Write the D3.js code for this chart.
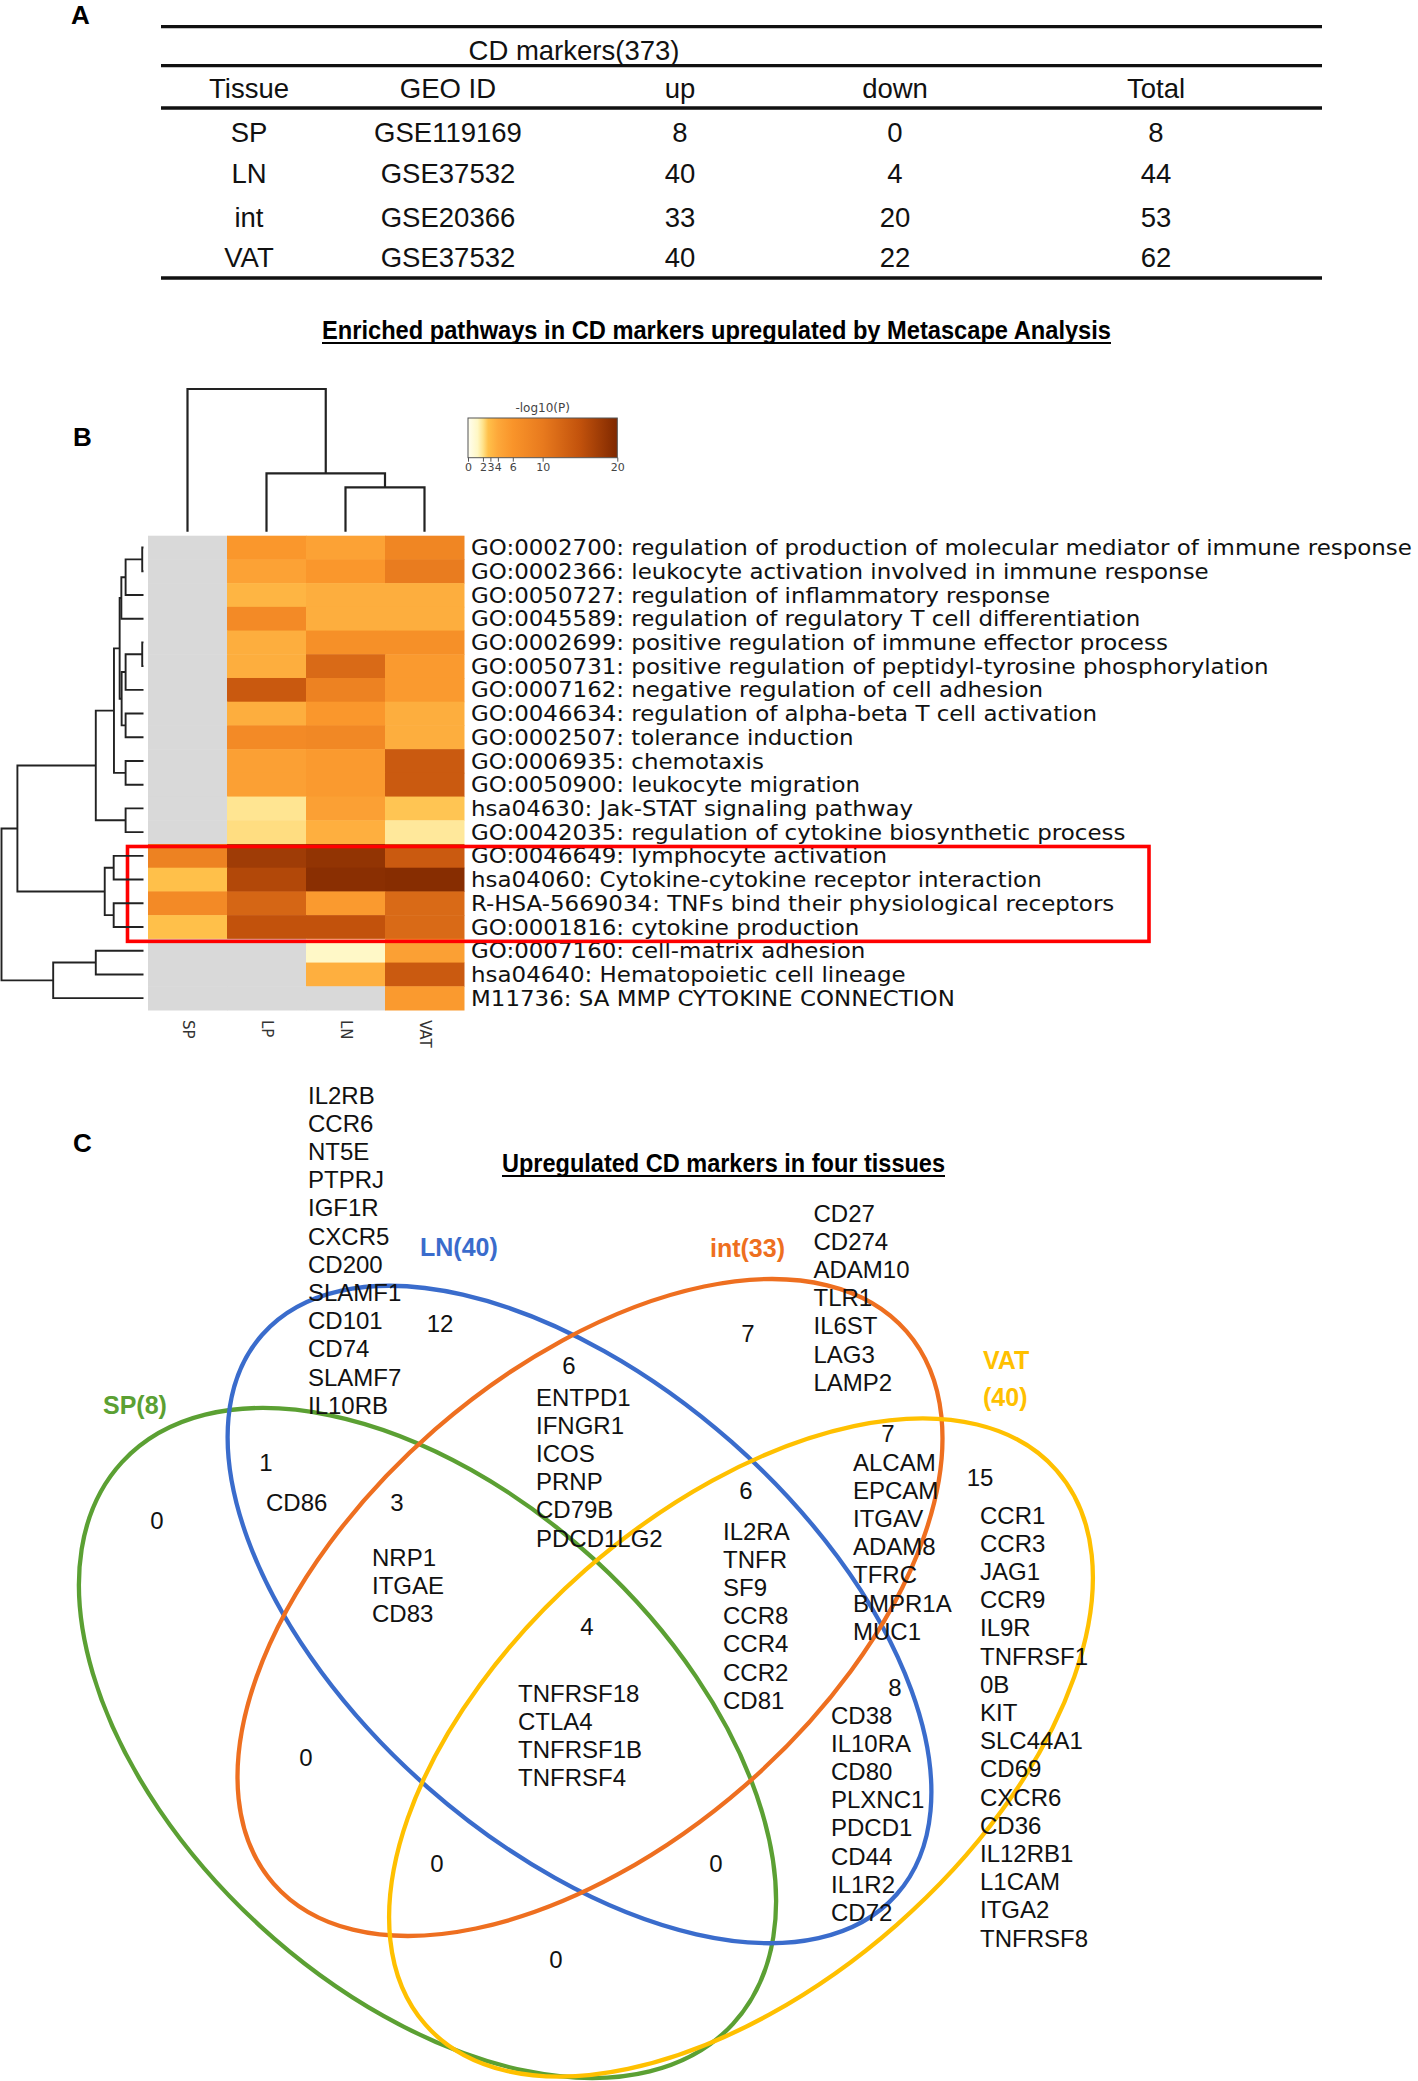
<!DOCTYPE html>
<html><head><meta charset="utf-8">
<script src="https://cdn.jsdelivr.net/npm/d3@7"></script>
<style>html,body{margin:0;padding:0;background:#fff;} svg{display:block;}</style>
</head><body>
<svg id="fig" width="1418" height="2081"></svg>
<script>
// ================= DATA =================
// Panel A table
const tableTitle = "CD markers(373)";
const tableHeaders = ["Tissue", "GEO ID", "up", "down", "Total"];
const tissues = ["SP", "LN", "int", "VAT"];
const geoIds = ["GSE119169", "GSE37532", "GSE20366", "GSE37532"];
const upCounts = [8, 40, 33, 40];
const downCounts = [0, 4, 20, 22];
const totalCounts = [8, 44, 53, 62];

// Panel B heatmap (-log10 P); null = not enriched (grey)
const heatTitle = "Enriched pathways in CD markers upregulated by Metascape Analysis";
const heatColumns = ["SP", "LP", "LN", "VAT"];
const pathwayTerms = [
  "GO:0002700: regulation of production of molecular mediator of immune response",
  "GO:0002366: leukocyte activation involved in immune response",
  "GO:0050727: regulation of inflammatory response",
  "GO:0045589: regulation of regulatory T cell differentiation",
  "GO:0002699: positive regulation of immune effector process",
  "GO:0050731: positive regulation of peptidyl-tyrosine phosphorylation",
  "GO:0007162: negative regulation of cell adhesion",
  "GO:0046634: regulation of alpha-beta T cell activation",
  "GO:0002507: tolerance induction",
  "GO:0006935: chemotaxis",
  "GO:0050900: leukocyte migration",
  "hsa04630: Jak-STAT signaling pathway",
  "GO:0042035: regulation of cytokine biosynthetic process",
  "GO:0046649: lymphocyte activation",
  "hsa04060: Cytokine-cytokine receptor interaction",
  "R-HSA-5669034: TNFs bind their physiological receptors",
  "GO:0001816: cytokine production",
  "GO:0007160: cell-matrix adhesion",
  "hsa04640: Hematopoietic cell lineage",
  "M11736: SA MMP CYTOKINE CONNECTION"
];
const logP_SP  = [null,null,null,null,null,null,null,null,null,null,null,null,null, 8.8, 2.7, 7.5, 2.7, null,null,null];
const logP_LP  = [5.7, 4.6, 3.3, 7.5, 3.7, 3.7, 14.1, 3.7, 7.5, 4.8, 4.8, 1.9, 2.1, 17.6, 16.2, 12.5, 15.0, null, null, null];
const logP_LN  = [4.6, 5.7, 3.7, 3.7, 6.6, 12.0, 8.8, 5.7, 7.8, 5.4, 5.4, 4.8, 3.6, 18.6, 19.2, 5.4, 15.0, 1.2, 3.6, null];
const logP_VAT = [8.2, 9.7, 3.7, 3.7, 6.6, 5.4, 5.4, 3.7, 3.7, 14.0, 14.0, 2.6, 1.8, 14.0, 19.4, 12.0, 12.0, 4.8, 14.0, 5.4];
const highlightedRows = [13, 16];
const legendTitle = "-log10(P)";
const legendTicks = [0, 2, 3, 4, 6, 10, 20];
const colorStops  = [0, 1.3, 2, 2.7, 4, 6, 10, 15, 20];
const colorRange  = ["#fffef0", "#fff7c4", "#ffe28a", "#ffc04a", "#fda83a", "#f9942a", "#e87a1e", "#c2520c", "#7f2800"];

// Dendrograms (merge heights, 0 = leaves, 1 = root)
const columnTree = {h: 1, children: [{leaf: "SP"}, {h: 0.409, children: [{leaf: "LP"}, {h: 0.311, children: [{leaf: "LN"}, {leaf: "VAT"}]}]}]};
const L = i => ({leaf: i});
const rowTree = {h: 1, children: [
  {h: 0.888, children: [
    {h: 0.336, children: [
      {h: 0.208, children: [
        {h: 0.168, children: [
          {h: 0.156, children: [{h: 0.126, children: [{h: 0.009, children: [L(0), L(1)]}, L(2)]}, L(3)]},
          {h: 0.154, children: [{h: 0.126, children: [{h: 0.009, children: [L(4), L(5)]}, L(6)]}, {h: 0.126, children: [L(7), L(8)]}]}
        ]},
        {h: 0.126, children: [L(9), L(10)]}
      ]},
      {h: 0.126, children: [L(11), L(12)]}
    ]},
    {h: 0.273, children: [{h: 0.21, children: [L(13), L(14)]}, {h: 0.21, children: [L(15), L(16)]}]}
  ]},
  {h: 0.636, children: [{h: 0.336, children: [L(17), L(18)]}, L(19)]}
]};

// Panel C Venn
const vennTitle = "Upregulated CD markers in four tissues";
const setNames = ["SP", "LN", "int", "VAT"];
const setSizes = [8, 40, 33, 40];
const setColors = ["#5ba033", "#3a6ccc", "#ee6f20", "#ffc000"];
const regionNames  = ["SP", "LN", "int", "VAT", "SP&LN", "LN&int", "int&VAT", "SP&LN&int", "LN&int&VAT", "all", "LN&VAT", "SP&int", "SP&int&VAT", "SP&VAT", "SP&LN&VAT"];
const regionCounts = [0, 12, 7, 15, 1, 6, 7, 3, 6, 4, 8, 0, 0, 0, 0];
const regionGenes = [
  [],
  ["IL2RB", "CCR6", "NT5E", "PTPRJ", "IGF1R", "CXCR5", "CD200", "SLAMF1", "CD101", "CD74", "SLAMF7", "IL10RB"],
  ["CD27", "CD274", "ADAM10", "TLR1", "IL6ST", "LAG3", "LAMP2"],
  ["CCR1", "CCR3", "JAG1", "CCR9", "IL9R", "TNFRSF1", "0B", "KIT", "SLC44A1", "CD69", "CXCR6", "CD36", "IL12RB1", "L1CAM", "ITGA2", "TNFRSF8"],
  ["CD86"],
  ["ENTPD1", "IFNGR1", "ICOS", "PRNP", "CD79B", "PDCD1LG2"],
  ["ALCAM", "EPCAM", "ITGAV", "ADAM8", "TFRC", "BMPR1A", "MUC1"],
  ["NRP1", "ITGAE", "CD83"],
  ["IL2RA", "TNFR", "SF9", "CCR8", "CCR4", "CCR2", "CD81"],
  ["TNFRSF18", "CTLA4", "TNFRSF1B", "TNFRSF4"],
  ["CD38", "IL10RA", "CD80", "PLXNC1", "PDCD1", "CD44", "IL1R2", "CD72"],
  [], [], [], []
];

// ================= LAYOUT =================
const svg = d3.select("#fig");
const SANS = "'Liberation Sans', Arial, Helvetica, sans-serif";
const DEJAVU = "'DejaVu Sans', Verdana, sans-serif";
svg.append("rect").attr("width", 1418).attr("height", 2081).attr("fill", "#fff");

// panel letters
const letterPos = [[71, 24], [73, 446], [73, 1152]];
svg.selectAll("text.letter").data(["A", "B", "C"]).join("text")
  .attr("class", "letter").attr("x", (d, i) => letterPos[i][0]).attr("y", (d, i) => letterPos[i][1])
  .attr("font-family", SANS).attr("font-weight", "bold").attr("font-size", 26).attr("fill", "#000").text(d => d);

// ---------- Panel A ----------
const ruleY = [26.7, 65.7, 108, 278];
svg.selectAll("line.rule").data(ruleY).join("line").attr("class", "rule")
  .attr("x1", 161).attr("x2", 1322).attr("y1", d => d).attr("y2", d => d)
  .attr("stroke", "#111").attr("stroke-width", 3.3);
const colX = [249, 448, 680, 895, 1156];
const tbl = svg.append("g").attr("font-family", SANS).attr("font-size", 27.5).attr("fill", "#111").attr("text-anchor", "middle");
tbl.append("text").attr("x", 574).attr("y", 60).text(tableTitle);
tbl.selectAll("text.hdr").data(tableHeaders).join("text").attr("class", "hdr")
  .attr("x", (d, i) => colX[i]).attr("y", 98).text(d => d);
const rowBaseY = [142, 183, 227, 267];
const tableCols = [tissues, geoIds, upCounts, downCounts, totalCounts];
tableCols.forEach((col, j) => {
  tbl.selectAll("text.c" + j).data(col).join("text").attr("class", "c" + j)
    .attr("x", colX[j]).attr("y", (d, i) => rowBaseY[i]).text(d => d);
});

// ---------- Panel B ----------
svg.append("text").attr("x", 322).attr("y", 339).attr("font-family", SANS).attr("font-weight", "bold")
  .attr("font-size", 25).attr("textLength", 789).attr("lengthAdjust", "spacingAndGlyphs").text(heatTitle);
svg.append("line").attr("x1", 322).attr("x2", 1111).attr("y1", 343).attr("y2", 343).attr("stroke", "#000").attr("stroke-width", 2);

const xBand = d3.scaleBand().domain(heatColumns).range([148, 464]);
const yBand = d3.scaleBand().domain(d3.range(pathwayTerms.length)).range([535.7, 1010]);
const color = d3.scaleLinear().domain(colorStops).range(colorRange).interpolate(d3.interpolateRgb).clamp(true);
const colArrays = [logP_SP, logP_LP, logP_LN, logP_VAT];
const cells = pathwayTerms.flatMap((t, i) => heatColumns.map((c, j) => ({i, c, v: colArrays[j][i]})));
svg.append("g").selectAll("rect").data(cells).join("rect")
  .attr("x", d => xBand(d.c)).attr("y", d => yBand(d.i))
  .attr("width", xBand.bandwidth() + 0.5).attr("height", yBand.bandwidth() + 0.5)
  .attr("fill", d => d.v == null ? "#d9d9d9" : color(d.v));

// row labels
svg.append("g").selectAll("text").data(pathwayTerms).join("text")
  .attr("transform", (d, i) => `translate(471,${yBand(i) + yBand.bandwidth() / 2 + 7.6}) scale(1.093,1)`)
  .attr("font-family", DEJAVU).attr("font-size", 21).attr("fill", "#111").text(d => d);

// column labels
svg.append("g").selectAll("text").data(heatColumns).join("text")
  .attr("transform", d => `translate(${xBand(d) + xBand.bandwidth() / 2},1020) rotate(90)`)
  .attr("dominant-baseline", "central").attr("font-family", DEJAVU).attr("font-size", 15).attr("fill", "#333").text(d => d);

// highlight box
svg.append("rect").attr("x", 127.5).attr("y", yBand(highlightedRows[0]) + 2.5)
  .attr("width", 1149 - 127.5).attr("height", yBand(highlightedRows[1]) + yBand.bandwidth() - yBand(highlightedRows[0]))
  .attr("fill", "none").attr("stroke", "#ff0000").attr("stroke-width", 3.6);

// dendrograms
function layoutTree(tree, leafPos, hScale) {
  const root = d3.hierarchy(tree);
  root.eachAfter(n => {
    if (!n.children) { n.p = leafPos(n.data.leaf); n.q = hScale(0); }
    else { n.p = d3.mean(n.children, c => c.p); n.q = hScale(n.data.h); }
  });
  return root;
}
const colRoot = layoutTree(columnTree, k => xBand(k) + xBand.bandwidth() / 2, d3.scaleLinear().domain([0, 1]).range([531.7, 389]));
svg.append("g").selectAll("path").data(colRoot.descendants().filter(n => n.children)).join("path")
  .attr("d", n => { const [a, b] = n.children; return `M${a.p},${a.q}V${n.q}H${b.p}V${b.q}`; })
  .attr("fill", "none").attr("stroke", "#222").attr("stroke-width", 2.2);
const rowRoot = layoutTree(rowTree, k => yBand(k) + yBand.bandwidth() / 2, d3.scaleLinear().domain([0, 1]).range([143.5, 1.5]));
svg.append("g").selectAll("path").data(rowRoot.descendants().filter(n => n.children)).join("path")
  .attr("d", n => { const [a, b] = n.children; return `M${a.q},${a.p}H${n.q}V${b.p}H${b.q}`; })
  .attr("fill", "none").attr("stroke", "#222").attr("stroke-width", 1.9);

// legend
const legX = d3.scaleLinear().domain([0, 20]).range([468, 617.3]);
const defs = svg.append("defs");
const grad = defs.append("linearGradient").attr("id", "lg").attr("x1", "0%").attr("x2", "100%");
grad.selectAll("stop").data(colorStops).join("stop")
  .attr("offset", d => (d / 20 * 100) + "%").attr("stop-color", (d, i) => colorRange[i]);
svg.append("rect").attr("x", legX(0)).attr("y", 418).attr("width", legX(20) - legX(0)).attr("height", 39.7)
  .attr("fill", "url(#lg)").attr("stroke", "#555").attr("stroke-width", 1);
svg.append("text").attr("x", legX(10)).attr("y", 412).attr("text-anchor", "middle")
  .attr("font-family", DEJAVU).attr("font-size", 12).attr("fill", "#444").text(legendTitle);
const legAxis = svg.append("g").attr("transform", "translate(0,457.7)")
  .call(d3.axisBottom(legX).tickValues(legendTicks).tickSize(4).tickFormat(d3.format("d")));
legAxis.select(".domain").remove();
legAxis.selectAll("text").attr("font-family", DEJAVU).attr("font-size", 11).attr("fill", "#444").attr("dy", "0.6em");
legAxis.selectAll("line").attr("stroke", "#555");

// ---------- Panel C ----------
svg.append("text").attr("x", 502).attr("y", 1172).attr("font-family", SANS).attr("font-weight", "bold")
  .attr("font-size", 25).attr("textLength", 443).attr("lengthAdjust", "spacingAndGlyphs").text(vennTitle);
svg.append("line").attr("x1", 502).attr("x2", 945).attr("y1", 1176).attr("y2", 1176).attr("stroke", "#000").attr("stroke-width", 2);

const ellipseLayout = [
  {cx: 427.5, cy: 1743, rx: 415, ry: 248, rot: 42.6},
  {cx: 579.5, cy: 1614.5, rx: 423, ry: 230, rot: 41.4},
  {cx: 590, cy: 1607.5, rx: 420, ry: 236, rot: -41.1},
  {cx: 741, cy: 1747.5, rx: 420, ry: 236, rot: -41.3}
];
svg.append("g").selectAll("ellipse").data(setNames).join("ellipse")
  .attr("cx", (d, i) => ellipseLayout[i].cx).attr("cy", (d, i) => ellipseLayout[i].cy)
  .attr("rx", (d, i) => ellipseLayout[i].rx).attr("ry", (d, i) => ellipseLayout[i].ry)
  .attr("transform", (d, i) => `rotate(${ellipseLayout[i].rot},${ellipseLayout[i].cx},${ellipseLayout[i].cy})`)
  .attr("fill", "none").attr("stroke", (d, i) => setColors[i]).attr("stroke-width", 4.3);

// set labels
const setLabelPos = [[103, 1414], [420, 1256], [710, 1257], [983, 1369]];
const setLabels = svg.append("g").attr("font-family", SANS).attr("font-weight", "bold").attr("font-size", 25);
setNames.forEach((s, i) => {
  const t = setLabels.append("text").attr("x", setLabelPos[i][0]).attr("y", setLabelPos[i][1]).attr("fill", setColors[i]);
  if (s === "VAT") {
    t.append("tspan").attr("x", setLabelPos[i][0]).text(s);
    t.append("tspan").attr("x", setLabelPos[i][0]).attr("dy", 37).text(`(${setSizes[i]})`);
  } else t.text(`${s}(${setSizes[i]})`);
});

// region counts and gene lists
const countPos = [[157, 1520], [440, 1323], [748, 1333], [980, 1477], [266, 1462], [569, 1365], [888, 1433], [397, 1502], [746, 1490], [587, 1626], [895, 1687], [306, 1757], [437, 1863], [556, 1959], [716, 1863]];
const listPos = [null, [308, 1095], [813.5, 1213], [980, 1515], [266, 1502], [536, 1397], [853, 1462], [372, 1557], [723, 1531], [518, 1693], [831, 1715], null, null, null, null];
const lineH = 28.2, capHalf = 8.6;
const vt = svg.append("g").attr("font-family", SANS).attr("font-size", 24).attr("fill", "#111");
vt.selectAll("text.cnt").data(regionCounts).join("text").attr("class", "cnt")
  .attr("x", (d, i) => countPos[i][0]).attr("y", (d, i) => countPos[i][1] + capHalf)
  .attr("text-anchor", "middle").text(d => d);
regionGenes.forEach((genes, r) => {
  if (!genes.length) return;
  vt.selectAll("text.g" + r).data(genes).join("text").attr("class", "g" + r)
    .attr("x", listPos[r][0]).attr("y", (d, k) => listPos[r][1] + k * lineH + capHalf).text(d => d);
});
</script>
</body></html>
